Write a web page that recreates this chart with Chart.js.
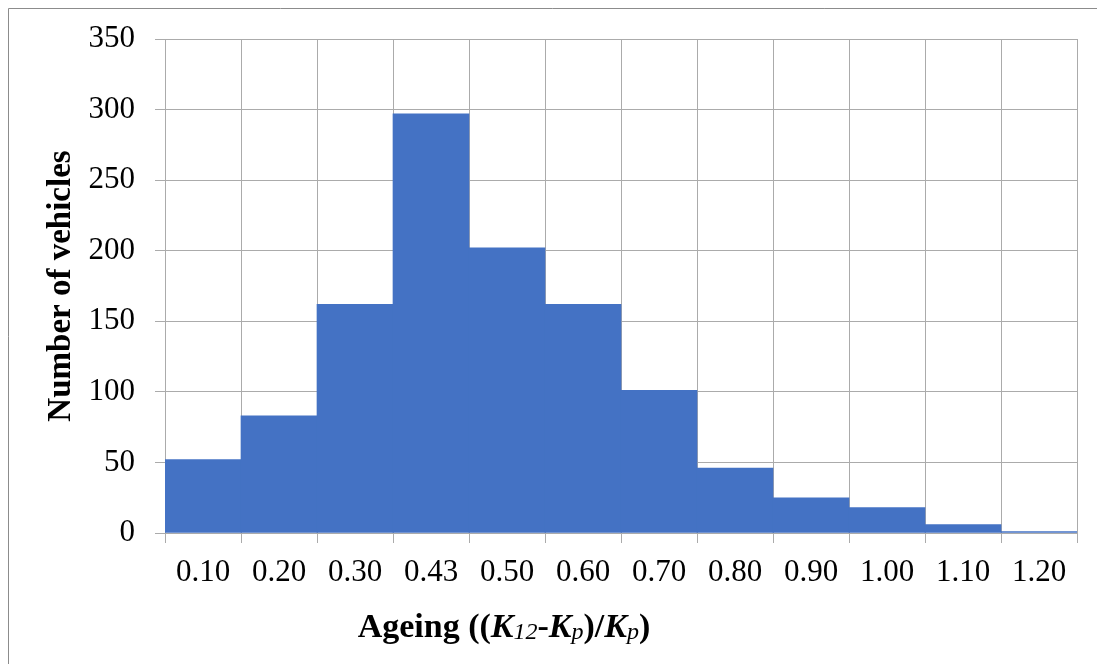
<!DOCTYPE html>
<html>
<head>
<meta charset="utf-8">
<script src="https://cdn.jsdelivr.net/npm/chart.js@4.4.1/dist/chart.umd.min.js"></script>
<style>
  html, body { margin: 0; padding: 0; background: #fff; }
  #wrap { width: 1097px; height: 664px; }
</style>
</head>
<body>
<div id="wrap"><canvas id="histChart" width="1097" height="664"></canvas></div>
<script>
// Histogram data
const binLabels = ["0.10", "0.20", "0.30", "0.43", "0.50", "0.60", "0.70", "0.80", "0.90", "1.00", "1.10", "1.20"];
const vehicleCounts = [52, 83, 162, 297, 202, 162, 101, 46, 25, 18, 6, 1];
const yTicks = [0, 50, 100, 150, 200, 250, 300, 350];

const serif = '"Liberation Serif", "Times New Roman", serif';
const gridColor = "#ababab";

// Outer frame, like the exported Excel chart
const framePlugin = {
  id: "frame",
  beforeDraw: (chart) => {
    const { ctx, width, height } = chart;
    ctx.save();
    ctx.fillStyle = "#fff";
    ctx.fillRect(0, 0, width, height);
    ctx.strokeStyle = "#8c8c8c";
    ctx.lineWidth = 1;
    ctx.beginPath();
    ctx.moveTo(8.5, height);
    ctx.lineTo(8.5, 8.5);
    ctx.lineTo(width, 8.5);
    ctx.stroke();
    ctx.restore();
  },
};

// X axis title with italic K and subscripts
const xTitlePlugin = {
  id: "xTitle",
  afterDraw: (chart) => {
    const { ctx } = chart;
    const big = "bold 34px " + serif;
    const bigIt = "italic bold 34px " + serif;
    const sub = "italic 24px " + serif;
    const parts = [
      { t: "Ageing ((", f: big, dy: 0 },
      { t: "K", f: bigIt, dy: 0 },
      { t: "12", f: sub, dy: 2 },
      { t: "-", f: big, dy: 0 },
      { t: "K", f: bigIt, dy: 0 },
      { t: "p", f: sub, dy: 2 },
      { t: ")/", f: big, dy: 0 },
      { t: "K", f: bigIt, dy: 0 },
      { t: "p", f: sub, dy: 2 },
      { t: ")", f: big, dy: 0 },
    ];
    ctx.save();
    ctx.fillStyle = "#000";
    ctx.textBaseline = "alphabetic";
    ctx.textAlign = "left";
    let total = 0;
    parts.forEach((p) => {
      ctx.font = p.f;
      p.w = ctx.measureText(p.t).width;
      total += p.w;
    });
    let x = 504 - total / 2;
    const baseY = 637;
    parts.forEach((p) => {
      ctx.font = p.f;
      ctx.fillText(p.t, x, baseY + p.dy);
      x += p.w;
    });
    ctx.restore();
  },
};

const ctx = document.getElementById("histChart").getContext("2d");

const histChart = new Chart(ctx, {
  type: "bar",
  data: {
    labels: binLabels,
    datasets: [
      {
        label: "Number of vehicles",
        data: vehicleCounts,
        backgroundColor: "#4472c4",
        borderWidth: 0,
        barPercentage: 1.0,
        categoryPercentage: 1.0,
      },
    ],
  },
  options: {
    responsive: false,
    animation: false,
    layout: {
      padding: { left: 0, right: 20, top: 39, bottom: 0 },
    },
    plugins: {
      legend: { display: false },
      tooltip: { enabled: false },
    },
    scales: {
      x: {
        offset: true,
        grid: {
          offset: true,
          color: gridColor,
          lineWidth: 1,
          tickLength: 10,
          drawTicks: true,
        },
        border: { color: gridColor },
        ticks: {
          color: "#000",
          font: { family: serif, size: 31 },
          padding: 11,
          maxRotation: 0,
          autoSkip: false,
        },
        afterFit: (scale) => {
          scale.height = 131;
        },
      },
      y: {
        min: 0,
        max: 350,
        afterBuildTicks: (scale) => {
          scale.ticks = yTicks.map((v) => ({ value: v }));
        },
        grid: {
          color: gridColor,
          lineWidth: 1,
          tickLength: 10,
        },
        border: { color: gridColor },
        ticks: {
          color: "#000",
          font: { family: serif, size: 31 },
          padding: 20,
        },
        title: {
          display: true,
          text: "Number of vehicles",
          color: "#000",
          font: { family: serif, size: 33, weight: "bold" },
          padding: { top: 42, bottom: 0 },
        },
        afterFit: (scale) => {
          scale.width = 165;
        },
      },
    },
  },
  plugins: [framePlugin, xTitlePlugin],
});
</script>
</body>
</html>
